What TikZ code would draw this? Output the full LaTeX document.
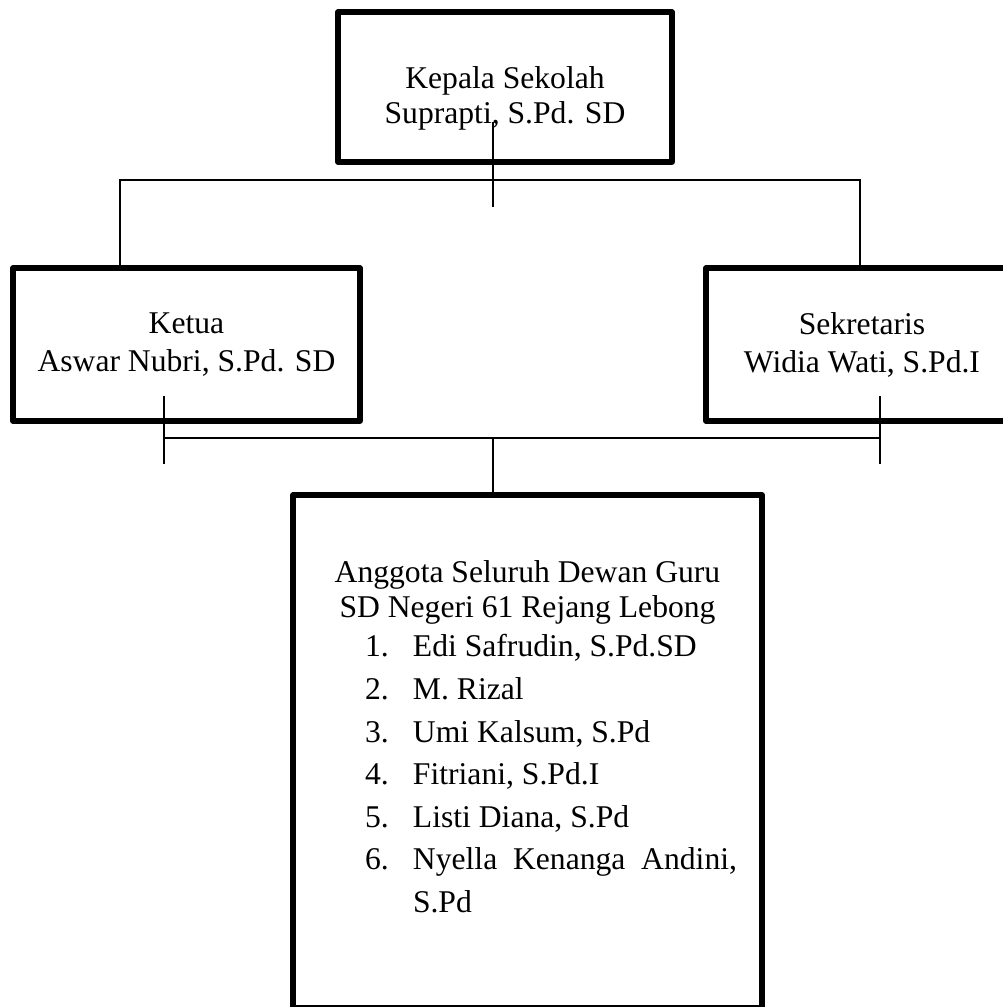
\documentclass[tikz,border=0pt]{standalone}
\usepackage{fontspec}
\setmainfont{Liberation Serif}
\usetikzlibrary{positioning}

\newcommand{\guruitem}[2]{\par\hangindent=1.90cm\hangafter=1\noindent\hspace*{0.94cm}\makebox[0.96cm][l]{#1.}#2}

\begin{document}
\begin{tikzpicture}[
  x=1cm,
  y=1cm,
  box/.style={
    rectangle,
    draw=black,
    line width=2.9pt,
    line join=round,
    inner sep=0pt,
    align=center,
    font=\fontsize{18}{21.6}\selectfont
  },
  link/.style={line width=0.9pt}
]

\useasboundingbox (0,0) rectangle (20.06,-20.14);

% Row 1: head of school
\node[box, minimum width=6.68cm, minimum height=3.0cm, font=\fontsize{18}{20}\selectfont] (kepala) at (10.10,-1.74) {\rule{0pt}{0.9cm}Kepala Sekolah\\Suprapti, S.Pd. SD};

% Row 2: chair and secretary
\node[box, minimum width=6.94cm, minimum height=3.06cm] (ketua) at (3.73,-6.89) {Ketua\\Aswar Nubri, S.Pd. SD};
\node[box, minimum width=6.24cm, minimum height=3.06cm] (sekretaris) at (17.24,-6.89) {Sekretaris\\Widia Wati, S.Pd.I};

% Row 3: members
\node[box, minimum width=9.38cm, minimum height=10.26cm, text width=8.38cm, align=justify, font=\fontsize{18}{20}\selectfont] (anggota) at (10.55,-15.03) {%
  \parindent=0pt\hyphenpenalty=10000\tolerance=9999
  {\centering Anggota Seluruh Dewan Guru\par SD Negeri 61 Rejang Lebong\par}
  \fontsize{18}{24.2}\selectfont\vspace{-2pt}
  \guruitem{1}{Edi Safrudin, S.Pd.SD}
  \guruitem{2}{M. Rizal}
  \guruitem{3}{Umi Kalsum, S.Pd}
  \guruitem{4}{Fitriani, S.Pd.I}
  \guruitem{5}{Listi Diana, S.Pd}
  \guruitem{6}{Nyella Kenanga Andini, S.Pd\rule[-0.60cm]{0pt}{0pt}}\par};

% connector points
\coordinate (stemTop) at (9.86,-2.44);
\coordinate (stemBot) at (9.86,-4.14);
\coordinate (busL) at (2.40,-3.60);
\coordinate (busR) at (17.20,-3.60);
\coordinate (tapL) at (3.28,-7.92);
\coordinate (tapLend) at (3.28,-9.28);
\coordinate (tapR) at (17.60,-7.92);
\coordinate (tapRend) at (17.60,-9.28);
\coordinate (busLow) at (9.86,-8.76);

\draw[link] (stemTop) -- (stemBot);
\draw[link] (ketua.north -| busL) -- (busL) -- (busR) -- (sekretaris.north -| busR);
\draw[link] (tapL) -- (tapLend);
\draw[link] (tapR) -- (tapRend);
\draw[link] (busLow -| tapL) -- (busLow -| tapR);
\draw[link] (busLow) -- (busLow |- anggota.north);
\end{tikzpicture}
\end{document}
